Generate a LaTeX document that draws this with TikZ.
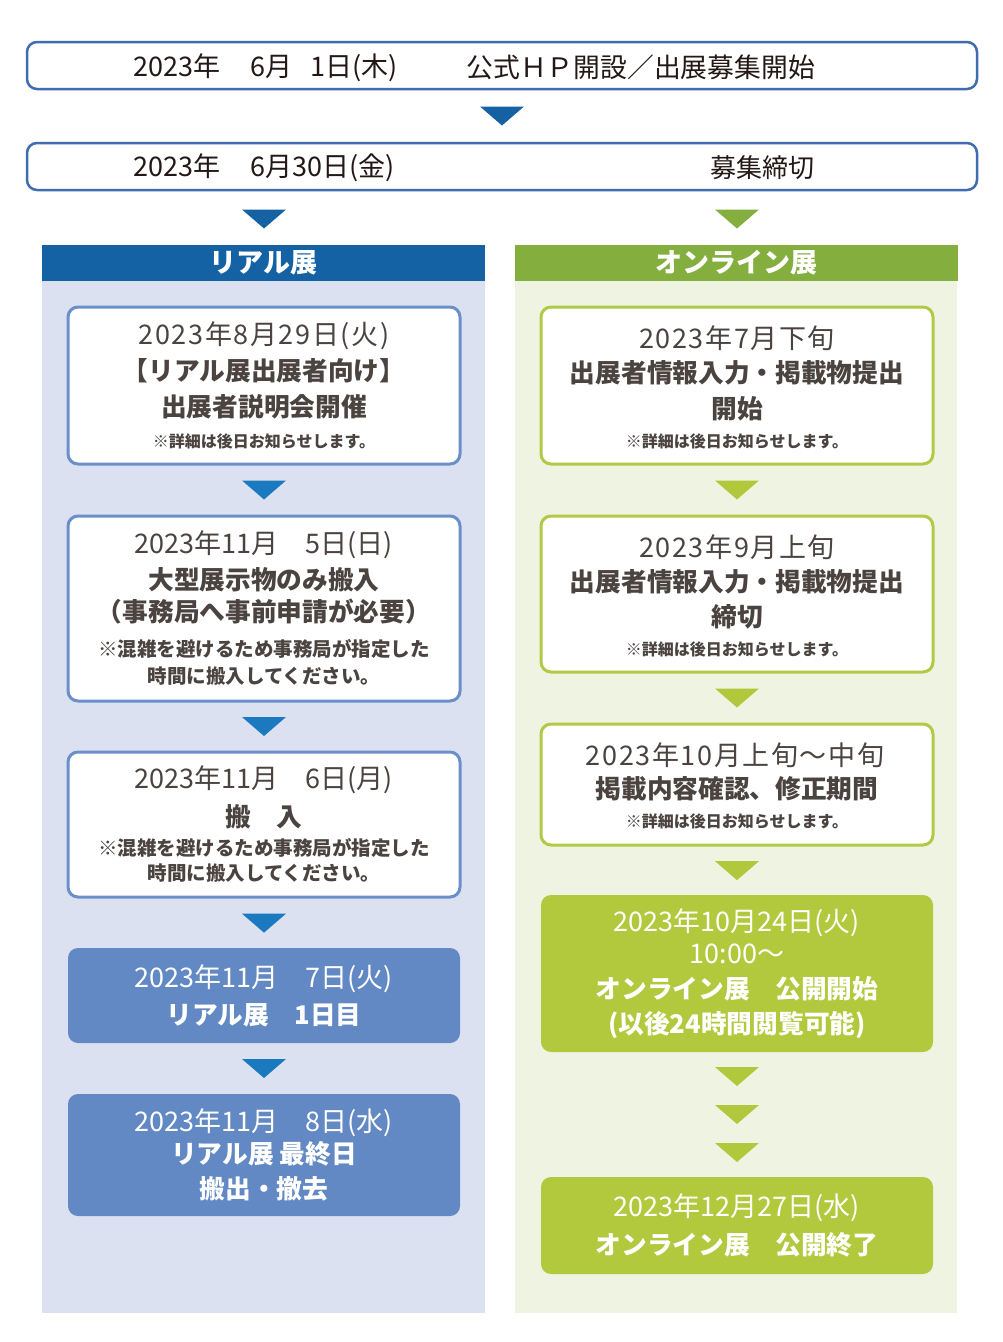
\documentclass[tikz,border=0pt]{standalone}
\usepackage{fontspec}
\setmainfont{Noto Sans CJK JP}
\newfontfamily\jpls[LetterSpace=6]{Noto Sans CJK JP}
\usetikzlibrary{calc}
\definecolor{topblue}{HTML}{3F6DAF}
\definecolor{darkblue}{HTML}{1461A4}
\definecolor{midblue}{HTML}{1B7ABF}
\definecolor{lborder}{HTML}{6B8FCA}
\definecolor{lpanel}{HTML}{DBE1F1}
\definecolor{lfill}{HTML}{6289C3}
\definecolor{hgreen}{HTML}{84AF3F}
\definecolor{ygreen}{HTML}{B2C83C}
\definecolor{rborder}{HTML}{B0CA48}
\definecolor{rpanel}{HTML}{EFF3E2}
\definecolor{rfill}{HTML}{B2C93E}
\definecolor{tdark}{HTML}{231815}
\definecolor{tgray}{HTML}{4A4340}
\newcommand\arrowtri[2]{\fill[#1] ($(#2)+(-22,-9.5)$) -- ($(#2)+(22,-9.5)$) -- ($(#2)+(0,9.5)$) -- cycle;}
\newcommand\lineat[5]{\node[#1] (#2) at (#3,#4) {#5};}
\begin{document}
\begin{tikzpicture}[x=1pt,y=-1pt,
  topbox/.style={draw=topblue, line width=2.5pt, rounded corners=10pt, fill=white, minimum width=950pt, minimum height=47pt, inner sep=0pt},
  lbox/.style={draw=lborder, line width=3pt, rounded corners=10pt, fill=white, minimum width=392pt, inner sep=0pt},
  rbox/.style={draw=rborder, line width=3pt, rounded corners=10pt, fill=white, minimum width=392pt, inner sep=0pt},
  lfbox/.style={fill=lfill, rounded corners=10pt, minimum width=392pt, inner sep=0pt},
  rfbox/.style={fill=rfill, rounded corners=10pt, minimum width=392pt, inner sep=0pt},
  header/.style={minimum width=443pt, minimum height=36pt, inner sep=0pt, text=white, font=\fontsize{27}{27}\selectfont\bfseries},
  toptxt/.style={inner sep=0pt, text=tdark, font=\fontsize{26}{26}\selectfont},
  topdate/.style={inner sep=0pt, text=tdark, font=\fontsize{27}{27}\selectfont},
  date/.style={inner sep=0pt, text=tgray, font=\fontsize{27}{27}\selectfont},
  datels/.style={inner sep=0pt, text=tgray, font=\jpls\fontsize{27}{27}\selectfont},
  bt/.style={inner sep=0pt, text=tgray, font=\fontsize{25.7}{25}\selectfont\bfseries},
  note/.style={inner sep=0pt, text=tgray, font=\fontsize{16}{16}\selectfont\bfseries},
  noteb/.style={inner sep=0pt, text=tgray, font=\fontsize{19.5}{19}\selectfont\bfseries},
  wh/.style={text=white}]
\useasboundingbox (0,0) rectangle (1002,1342);
\fill[white] (0,0) rectangle (1002,1342);

% top boxes
\node[topbox] (top1) at (502,65.5) {};
\node[topdate, anchor=west] (top1d) at (133,67.5) {2023年　\hspace{3pt}6月　\hspace{-9pt}1日(木)};
\node[toptxt, anchor=east, font=\fontsize{26.8}{26}\selectfont] (top1t) at (815,67.5) {公式ＨＰ開設／出展募集開始};
\node[topbox] (top2) at (502,166.5) {};
\node[topdate, anchor=west] (top2d) at (133,168) {2023年　\hspace{3pt}6月30日(金)};
\node[toptxt, anchor=east] (top2t) at (815,168) {募集締切};
\coordinate (m0) at ($(top1.south)!0.5!(top2.north)$);
\arrowtri{darkblue}{m0}
\coordinate (ml0) at (264,219);
\coordinate (mr0) at (737,219);
\arrowtri{darkblue}{ml0}
\arrowtri{hgreen}{mr0}

% panels
\fill[lpanel] (42,281) rectangle (485,1313);
\fill[rpanel] (515,281) rectangle (957,1313);
\node[header, fill=darkblue] (lhead) at (263.5,263) {リアル展};
\node[header, fill=hgreen] (rhead) at (736,263) {オンライン展};

% left column
\node[lbox, minimum height=157pt] (A) at (264,385.5) {};
\lineat{datels}{A1}{264}{335.5}{2023年8月29日(火)}
\lineat{bt}{A2}{264}{371}{【リアル展出展者向け】}
\lineat{bt}{A3}{264}{407}{出展者説明会開催}
\lineat{note}{A4}{264}{441}{※詳細は後日お知らせします。}

\node[lbox, minimum height=185pt] (B) at (264,608.5) {};
\lineat{date}{B1}{264}{545}{2023年11月　5日(日)}
\lineat{bt}{B2}{264}{580}{大型展示物のみ搬入}
\lineat{bt}{B3}{264}{612}{（事務局へ事前申請が必要）}
\lineat{noteb}{B4}{264}{649}{※混雑を避けるため事務局が指定した}
\lineat{noteb}{B5}{264}{676}{時間に搬入してください。}

\node[lbox, minimum height=145pt] (C) at (264,824.5) {};
\lineat{date}{C1}{264}{780}{2023年11月　6日(月)}
\lineat{bt}{C2}{264}{817}{搬　入}
\lineat{noteb}{C3}{264}{848}{※混雑を避けるため事務局が指定した}
\lineat{noteb}{C4}{264}{873}{時間に搬入してください。}

\node[lfbox, minimum height=95pt] (D) at (264,995.5) {};
\lineat{date,wh}{D1}{264}{979}{2023年11月　7日(火)}
\lineat{bt,wh}{D2}{264}{1015}{リアル展　1日目}

\node[lfbox, minimum height=122pt] (E) at (264,1155) {};
\lineat{date,wh}{E1}{264}{1123}{2023年11月　8日(水)}
\lineat{bt,wh}{E2}{264}{1154}{リアル展 最終日}
\lineat{bt,wh}{E3}{264}{1189}{搬出・撤去}

\coordinate (l1) at ($(A.south)!0.5!(B.north)$);
\coordinate (l2) at ($(B.south)!0.5!(C.north)$);
\coordinate (l3) at ($(C.south)!0.5!(D.north)$);
\coordinate (l4) at ($(D.south)!0.5!(E.north)$);
\arrowtri{midblue}{l1}
\arrowtri{midblue}{l2}
\arrowtri{midblue}{l3}
\arrowtri{midblue}{l4}

% right column
\node[rbox, minimum height=157pt] (a) at (737,385.5) {};
\lineat{datels}{a1}{737}{338}{2023年7月下旬}
\lineat{bt}{a2}{737}{373}{出展者情報入力・掲載物提出}
\lineat{bt}{a3}{737}{409}{開始}
\lineat{note}{a4}{737}{441}{※詳細は後日お知らせします。}

\node[rbox, minimum height=156pt] (b) at (737,594) {};
\lineat{datels}{b1}{737}{547}{2023年9月上旬}
\lineat{bt}{b2}{737}{582}{出展者情報入力・掲載物提出}
\lineat{bt}{b3}{737}{617}{締切}
\lineat{note}{b4}{737}{649}{※詳細は後日お知らせします。}

\node[rbox, minimum height=121pt] (c) at (737,784.5) {};
\lineat{datels}{c1}{735}{755}{2023年10月上旬〜中旬}
\lineat{bt}{c2}{737}{789}{掲載内容確認、修正期間}
\lineat{note}{c3}{737}{821}{※詳細は後日お知らせします。}

\node[rfbox, minimum height=157pt] (d) at (737,973.5) {};
\lineat{date,wh}{d1}{737}{923}{2023年10月24日(火)}
\lineat{date,wh}{d2}{737}{954}{10:00〜}
\lineat{bt,wh}{d3}{737}{989}{オンライン展　公開開始}
\lineat{bt,wh}{d4}{737}{1025}{(以後24時間閲覧可能)}

\node[rfbox, minimum height=97pt] (e) at (737,1225.5) {};
\lineat{date,wh}{e1}{737}{1208}{2023年12月27日(水)}
\lineat{bt,wh}{e2}{737}{1245}{オンライン展　公開終了}

\coordinate (r1) at ($(a.south)!0.5!(b.north)$);
\coordinate (r2) at ($(b.south)!0.5!(c.north)$);
\coordinate (r3) at ($(c.south)!0.5!(d.north)$);
\coordinate (r5) at ($(d.south)!0.5!(e.north)$);
\coordinate (r4) at ($(r5)+(0,-38)$);
\coordinate (r6) at ($(r5)+(0,38)$);
\arrowtri{ygreen}{r1}
\arrowtri{ygreen}{r2}
\arrowtri{ygreen}{r3}
\arrowtri{ygreen}{r4}
\arrowtri{ygreen}{r5}
\arrowtri{ygreen}{r6}
\end{tikzpicture}
\end{document}
